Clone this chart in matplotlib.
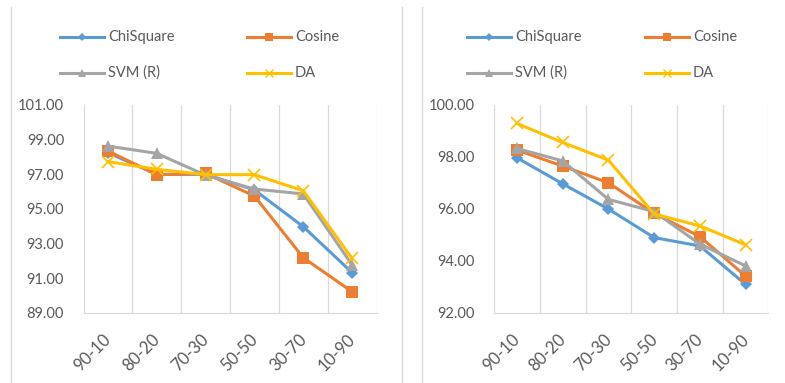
import matplotlib.pyplot as plt
from matplotlib.lines import Line2D
from matplotlib.transforms import ScaledTranslation

# train-test splits
splits = ["90-10", "80-20", "70-30", "50-50", "30-70", "10-90"]

# left chart
left_chisquare = [98.25, 97.00, 97.00, 96.10, 93.98, 91.33]
left_cosine = [98.35, 96.98, 97.05, 95.75, 92.19, 90.23]
left_svm = [98.63, 98.21, 96.95, 96.15, 95.87, 91.77]
left_da = [97.73, 97.29, 96.98, 96.98, 96.05, 92.15]
left_yticks = [89, 91, 93, 95, 97, 99, 101]

# right chart
right_chisquare = [97.97, 96.97, 96.00, 94.90, 94.58, 93.10]
right_cosine = [98.27, 97.65, 97.01, 95.83, 94.94, 93.42]
right_svm = [98.33, 97.85, 96.37, 95.90, 94.65, 93.81]
right_da = [99.29, 98.56, 97.88, 95.81, 95.35, 94.62]
right_yticks = [92, 94, 96, 98, 100]

names = ["ChiSquare", "Cosine", "SVM (R)", "DA"]
colors = ["#5B9BD5", "#ED7D31", "#A5A5A5", "#FFC000"]
markers = ["D", "s", "^", "x"]
msizes = [6, 8, 8, 9]

plt.rcParams["font.family"] = ["Lato", "DejaVu Sans"]
TEXT = "#595959"
GRID = "#D9D9D9"

W, H = 785, 383
fig = plt.figure(figsize=(W / 100, H / 100), dpi=100)


def px_axes(x0, x1, ytop, ybot):
    return fig.add_axes([x0 / W, 1 - ybot / H, (x1 - x0) / W, (ybot - ytop) / H])


def draw_chart(ax, series, yticks):
    x = range(len(splits))
    for vals, c, m, ms in zip(series, colors, markers, msizes):
        ax.plot(x, vals, color=c, lw=2.2, marker=m, ms=ms, mew=1.2 if m == "x" else 0,
                mec=c, mfc=c, solid_joinstyle="round")
    ax.set_xlim(-0.5, len(splits) - 0.5)
    ax.set_ylim(yticks[0], yticks[-1])
    ax.set_yticks(yticks)
    ax.set_yticklabels([f"{v:.2f}" for v in yticks])
    ax.set_xticks(list(x))
    ax.set_xticklabels(splits, rotation=45, ha="right", rotation_mode="anchor")
    for b in [i - 0.5 for i in range(len(splits) + 1)]:
        ax.axvline(b, color=GRID, lw=0.9, zorder=0)
    for s in ["top", "left", "right"]:
        ax.spines[s].set_visible(False)
    ax.spines["bottom"].set_color(GRID)
    ax.tick_params(length=0, colors=TEXT, labelsize=10.5)
    ax.tick_params(axis="y", pad=14)
    ax.tick_params(axis="x", pad=13)
    shift = ScaledTranslation(-5 / 100, 0, fig.dpi_scale_trans)
    for lab in ax.get_xticklabels():
        lab.set_fontsize(12)
        lab.set_transform(lab.get_transform() + shift)


def draw_legend(x_line, x_col2):
    for i, (name, c, m, ms) in enumerate(zip(names, colors, markers, msizes)):
        col, row = i % 2, i // 2
        x0 = x_line if col == 0 else x_col2
        y = 37 + row * 36
        xs = [x0 / W, (x0 + 44) / W]
        ys = [1 - y / H] * 2
        fig.add_artist(Line2D(xs, ys, color=c, lw=2.2, transform=fig.transFigure))
        fig.add_artist(Line2D([(x0 + 22) / W], [1 - y / H], color=c, marker=m,
                              ms=ms * 0.7, mew=1 if m == "x" else 0, mfc=c, mec=c,
                              transform=fig.transFigure))
        fig.text((x0 + 48) / W, 1 - y / H, name, color=TEXT, fontsize=10.5,
                 va="center", ha="left")


ax1 = px_axes(83.5, 376.5, 105, 313)
draw_chart(ax1, [left_chisquare, left_cosine, left_svm, left_da], left_yticks)
draw_legend(60, 247)

ax2 = px_axes(494, 768.5, 105, 313)
draw_chart(ax2, [right_chisquare, right_cosine, right_svm, right_da], right_yticks)
draw_legend(467, 645)

# chart frame edges
for xb in [11, 401.5, 421.5]:
    fig.add_artist(Line2D([xb / W] * 2, [0, 1 - 7 / H], color=GRID, lw=1,
                          transform=fig.transFigure))

fig.savefig("out.png", dpi=100, facecolor="white")
